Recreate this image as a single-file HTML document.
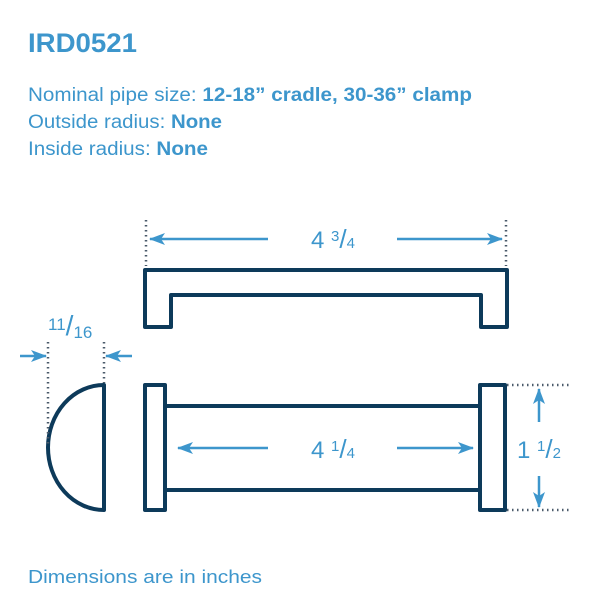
<!DOCTYPE html>
<html><head><style>html,body{margin:0;padding:0;background:#fff;}svg{display:block;}</style></head>
<body>
<svg width="600" height="600" viewBox="0 0 600 600" xmlns="http://www.w3.org/2000/svg" font-family="Liberation Sans, sans-serif">
<defs>
<marker id="ah" viewBox="0 0 16 12" refX="15" refY="6" markerWidth="16" markerHeight="12" orient="auto-start-reverse" markerUnits="userSpaceOnUse">
<path d="M0,0 L16,6 L0,12 L4,6 Z" fill="#3d96cc"/></marker>
</defs>
<g fill="#3d96cc">
<text x="28" y="52" font-size="27" font-weight="bold" textLength="109" lengthAdjust="spacingAndGlyphs">IRD0521</text>
<text x="28" y="101" font-size="19" textLength="444" lengthAdjust="spacingAndGlyphs">Nominal pipe size: <tspan font-weight="bold">12-18” cradle, 30-36” clamp</tspan></text>
<text x="28" y="128" font-size="19" textLength="194" lengthAdjust="spacingAndGlyphs">Outside radius: <tspan font-weight="bold">None</tspan></text>
<text x="28" y="155" font-size="19" textLength="180" lengthAdjust="spacingAndGlyphs">Inside radius: <tspan font-weight="bold">None</tspan></text>
<text x="28" y="583" font-size="18" textLength="234" lengthAdjust="spacingAndGlyphs">Dimensions are in inches</text>
<text x="311" y="248" font-size="24">4 <tspan font-size="15" dy="-7">3</tspan><tspan font-size="26" dy="7">/</tspan><tspan font-size="15">4</tspan></text>
<text x="311" y="458" font-size="24">4 <tspan font-size="15" dy="-7">1</tspan><tspan font-size="26" dy="7">/</tspan><tspan font-size="15">4</tspan></text>
<text x="517" y="458" font-size="24">1 <tspan font-size="15" dy="-7">1</tspan><tspan font-size="26" dy="7">/</tspan><tspan font-size="15">2</tspan></text>
<text x="48" y="330" font-size="17">11<tspan font-size="28" dy="5">/</tspan><tspan font-size="17" dy="3">16</tspan></text>
</g>
<g stroke="#0d3a5a" stroke-width="4" fill="none" stroke-linejoin="round">
<path d="M145,270 H507 V327 H481 V295 H171 V327 H145 Z"/>
<rect x="145" y="385" width="20" height="125"/>
<rect x="480" y="385" width="25" height="125"/>
<line x1="165" y1="406" x2="480" y2="406"/>
<line x1="165" y1="490" x2="480" y2="490"/>
<path d="M104,385 V510 A56,62.5 0 0 1 104,385 Z"/>
</g>
<g stroke="#4a5a6a" stroke-width="2.5" stroke-dasharray="1.5,3.5" fill="none">
<line x1="146" y1="220" x2="146" y2="266"/>
<line x1="506" y1="220" x2="506" y2="266"/>
<line x1="48" y1="342" x2="48" y2="445"/>
<line x1="104" y1="342" x2="104" y2="383"/>
<line x1="507" y1="385" x2="572" y2="385"/>
<line x1="507" y1="510" x2="572" y2="510"/>
</g>
<g stroke="#3d96cc" stroke-width="2.5" fill="none">
<line x1="268" y1="239" x2="150" y2="239" marker-end="url(#ah)"/>
<line x1="397" y1="239" x2="502" y2="239" marker-end="url(#ah)"/>
<line x1="268" y1="448" x2="178" y2="448" marker-end="url(#ah)"/>
<line x1="397" y1="448" x2="473" y2="448" marker-end="url(#ah)"/>
<line x1="539" y1="422" x2="539" y2="389" marker-end="url(#ah)"/>
<line x1="539" y1="476" x2="539" y2="507" marker-end="url(#ah)"/>
<line x1="20" y1="356" x2="46" y2="356" marker-end="url(#ah)"/>
<line x1="132" y1="356" x2="106" y2="356" marker-end="url(#ah)"/>
</g>
</svg>
</body></html>
